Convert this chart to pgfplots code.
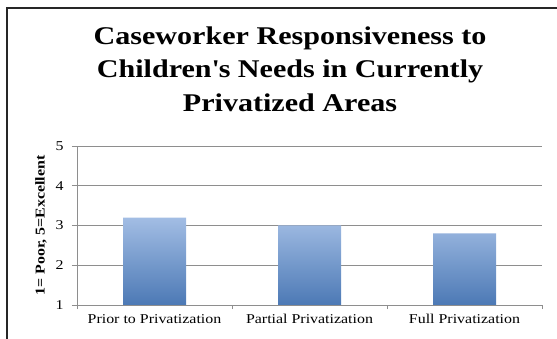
\documentclass[border=0pt]{standalone}
\usepackage{fontspec}
\setmainfont{Liberation Serif}[FakeStretch=1.18]
\usepackage{pgfplots}
\pgfplotsset{compat=1.18}
\definecolor{gridc}{HTML}{8E8E8E}
\definecolor{bartop}{HTML}{A2BDE4}
\definecolor{barbot}{HTML}{4C79B5}
\begin{document}
\begin{tikzpicture}[x=1bp,y=1bp]
\path[use as bounding box] (0,0) rectangle (557bp,339bp);
\clip (0,0) rectangle (557bp,339bp);
\begin{axis}[
  at={(77bp,34bp)}, anchor=south west,
  scale only axis, width=465bp, height=159bp,
  xmin=-0.5, xmax=2.5, ymin=1, ymax=5,
  ytick={1,2,3,4,5},
  xtick={0,1,2},
  xticklabels={Prior to Privatization, Partial Privatization, Full Privatization},
  minor xtick={-0.5,0.5,1.5,2.5},
  major x tick style={draw=none},
  minor x tick style={gridc, line width=0.8bp},
  minor tick length=4bp,
  major tick length=5bp,
  tick align=outside,
  ytick style={gridc, line width=0.8bp},
  axis x line*=bottom, axis y line*=left,
  axis line style={gridc, line width=0.8bp, -},
  ymajorgrids, grid style={gridc, line width=0.8bp},
  /pgf/number format/assume math mode=true,
  ticklabel style={font=\fontsize{13.5bp}{15bp}\selectfont, text=black},
  xticklabel style={yshift=-1bp},
  yticklabel style={xshift=-5bp},
  ylabel={\textbf{1= Poor, 5=Excellent}},
  ylabel style={font=\fontsize{13.5bp}{15bp}\selectfont, yshift=2bp},
  clip=true,
]
\addplot[ybar, bar width=63bp, draw=none, top color=bartop, bottom color=barbot]
  coordinates {(0,3.2) (1,3.0) (2,2.8)};
\end{axis}
\node[anchor=base, font=\fontsize{25.5bp}{30bp}\selectfont\bfseries] at (290bp,294bp) {Caseworker Responsiveness to};
\node[anchor=base, font=\fontsize{25.5bp}{30bp}\selectfont\bfseries] at (290bp,261bp) {Children\textquotesingle s Needs in Currently};
\node[anchor=base, font=\fontsize{25.5bp}{30bp}\selectfont\bfseries] at (290bp,227bp) {Privatized Areas};
\draw[line width=2bp, black!85] (7bp,-100bp) rectangle (700bp,331bp);
\end{tikzpicture}
\end{document}
